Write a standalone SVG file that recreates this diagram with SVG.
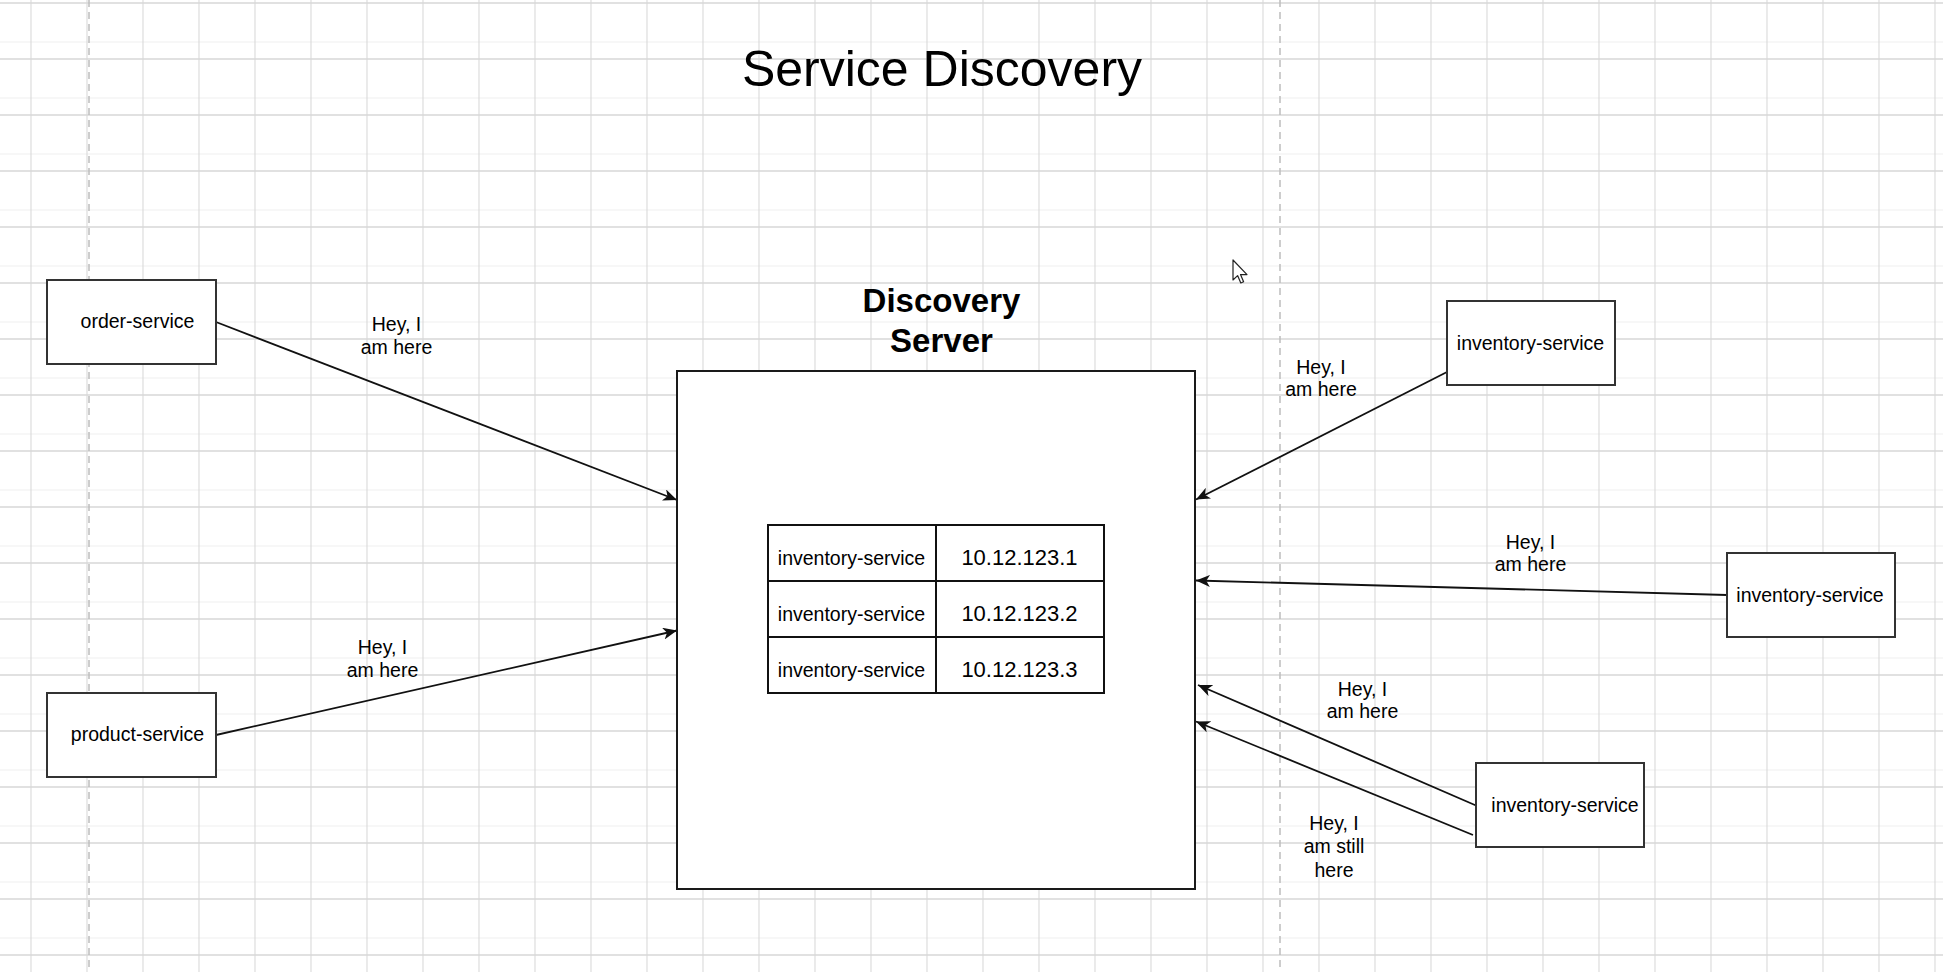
<svg xmlns="http://www.w3.org/2000/svg" width="1943" height="972" viewBox="0 0 1943 972">
  <style>
    .grid { stroke: #dadada; stroke-width: 1.1; fill: none; }
    .gridh { stroke: #d8d8d8; stroke-width: 1.5; fill: none; }
    .ghost { stroke: #efefef; stroke-width: 1; fill: none; }
    .page { stroke: #bdbdbd; stroke-width: 1.5; stroke-dasharray: 7 5; fill: none; }
    .box { fill: #ffffff; stroke: #333333; stroke-width: 2; }
    .server { fill: #ffffff; stroke: #1a1a1a; stroke-width: 2; }
    .cell { fill: #ffffff; stroke: #111111; stroke-width: 2; }
    .edge { stroke: #111111; stroke-width: 1.8; fill: none; marker-end: url(#arrow); }
    text { font-family: "Liberation Sans", Arial, Helvetica, sans-serif; fill: #000000; }
    .lbl { font-size: 19.5px; text-anchor: middle; }
    .ip { font-size: 22px; text-anchor: middle; }
    .title { font-size: 50px; text-anchor: middle; }
    .head { font-size: 33px; font-weight: bold; text-anchor: middle; }
  </style>
  <defs>
    <marker id="arrow" markerUnits="userSpaceOnUse" viewBox="0 0 14 12" refX="14" refY="6" markerWidth="14" markerHeight="12" orient="auto">
      <path d="M14 6 L0 0 L3.8 6 L0 12 Z" fill="#111111"/>
    </marker>
  </defs>

  <!-- canvas background and grid -->
  <rect x="0" y="0" width="1943" height="972" fill="#ffffff"/>
  <g id="grid">
    <path class="ghost" d="M0 42H1943M0 98H1943M0 154H1943M0 210H1943M0 266H1943M0 322H1943M0 378H1943M0 434H1943M0 490H1943M0 546H1943M0 602H1943M0 658H1943M0 714H1943M0 770H1943M0 826H1943M0 882H1943M0 938H1943"/>
    <path class="grid" d="M31 0V972M87 0V972M143 0V972M199 0V972M255 0V972M311 0V972M367 0V972M423 0V972M479 0V972M535 0V972M591 0V972M647 0V972M703 0V972M759 0V972M815 0V972M871 0V972M927 0V972M983 0V972M1039 0V972M1095 0V972M1151 0V972M1207 0V972M1263 0V972M1319 0V972M1375 0V972M1431 0V972M1487 0V972M1543 0V972M1599 0V972M1655 0V972M1711 0V972M1767 0V972M1823 0V972M1879 0V972M1935 0V972"/>
    <path class="gridh" d="M0 3H1943M0 59H1943M0 115H1943M0 171H1943M0 227H1943M0 283H1943M0 339H1943M0 395H1943M0 451H1943M0 507H1943M0 563H1943M0 619H1943M0 675H1943M0 731H1943M0 787H1943M0 843H1943M0 899H1943M0 955H1943"/>
    <path class="page" d="M89 0V972M1280 0V972"/>
  </g>

  <!-- heading -->
  <text id="title" class="title" x="942" y="86">Service Discovery</text>

  <!-- connectors -->
  <g id="connectors">
    <line class="edge" x1="216" y1="322" x2="677" y2="500"/>
    <line class="edge" x1="216" y1="735" x2="677" y2="630.5"/>
    <line class="edge" x1="1447" y1="372" x2="1196" y2="499.5"/>
    <line class="edge" x1="1727" y1="595" x2="1196" y2="580.5"/>
    <line class="edge" x1="1476" y1="805.5" x2="1198" y2="685"/>
    <line class="edge" x1="1473" y1="835" x2="1196" y2="721.5"/>
    <text class="lbl" x="396.5" y="331">Hey, I</text>
    <text class="lbl" x="396.5" y="354">am here</text>
    <text class="lbl" x="382.5" y="654">Hey, I</text>
    <text class="lbl" x="382.5" y="676.5">am here</text>
    <text class="lbl" x="1321" y="374">Hey, I</text>
    <text class="lbl" x="1321" y="396">am here</text>
    <text class="lbl" x="1530.5" y="548.5">Hey, I</text>
    <text class="lbl" x="1530.5" y="570.5">am here</text>
    <text class="lbl" x="1362.5" y="695.5">Hey, I</text>
    <text class="lbl" x="1362.5" y="718">am here</text>
    <text class="lbl" x="1334" y="829.5">Hey, I</text>
    <text class="lbl" x="1334" y="853">am still</text>
    <text class="lbl" x="1334" y="876.5">here</text>
  </g>

  <!-- client services -->
  <g id="order-service">
    <rect class="box" x="47" y="280" width="169" height="84"/>
    <text class="lbl" x="137.5" y="328">order-service</text>
  </g>
  <g id="product-service">
    <rect class="box" x="47" y="693" width="169" height="84"/>
    <text class="lbl" x="137.5" y="741">product-service</text>
  </g>

  <!-- discovery server with its registry table -->
  <g id="discovery-server">
    <text class="head" x="941.5" y="312">Discovery</text>
    <text class="head" x="941.5" y="351.5">Server</text>
    <rect class="server" x="677" y="371" width="518" height="518"/>
    <g id="registry">
      <rect class="cell" x="768" y="525" width="168" height="56"/>
      <rect class="cell" x="936" y="525" width="168" height="56"/>
      <rect class="cell" x="768" y="581" width="168" height="56"/>
      <rect class="cell" x="936" y="581" width="168" height="56"/>
      <rect class="cell" x="768" y="637" width="168" height="56"/>
      <rect class="cell" x="936" y="637" width="168" height="56"/>
      <text class="lbl" x="851.5" y="565">inventory-service</text>
      <text class="ip" x="1019.5" y="565">10.12.123.1</text>
      <text class="lbl" x="851.5" y="621">inventory-service</text>
      <text class="ip" x="1019.5" y="621">10.12.123.2</text>
      <text class="lbl" x="851.5" y="677">inventory-service</text>
      <text class="ip" x="1019.5" y="677">10.12.123.3</text>
    </g>
  </g>

  <!-- inventory instances -->
  <g id="inventory-service-1">
    <rect class="box" x="1447" y="301" width="168" height="84"/>
    <text class="lbl" x="1530.5" y="350">inventory-service</text>
  </g>
  <g id="inventory-service-2">
    <rect class="box" x="1727" y="553" width="168" height="84"/>
    <text class="lbl" x="1810" y="602">inventory-service</text>
  </g>
  <g id="inventory-service-3">
    <rect class="box" x="1476" y="763" width="168" height="84"/>
    <text class="lbl" x="1565" y="812">inventory-service</text>
  </g>

  <!-- pointer -->
  <path id="pointer" d="M1233 260 L1233 280 L1237.6 275.6 L1240.8 283 L1243.6 281.8 L1240.5 274.6 L1247 274.6 Z" fill="#ffffff" stroke="#222222" stroke-width="1.2" stroke-linejoin="round"/>
</svg>
